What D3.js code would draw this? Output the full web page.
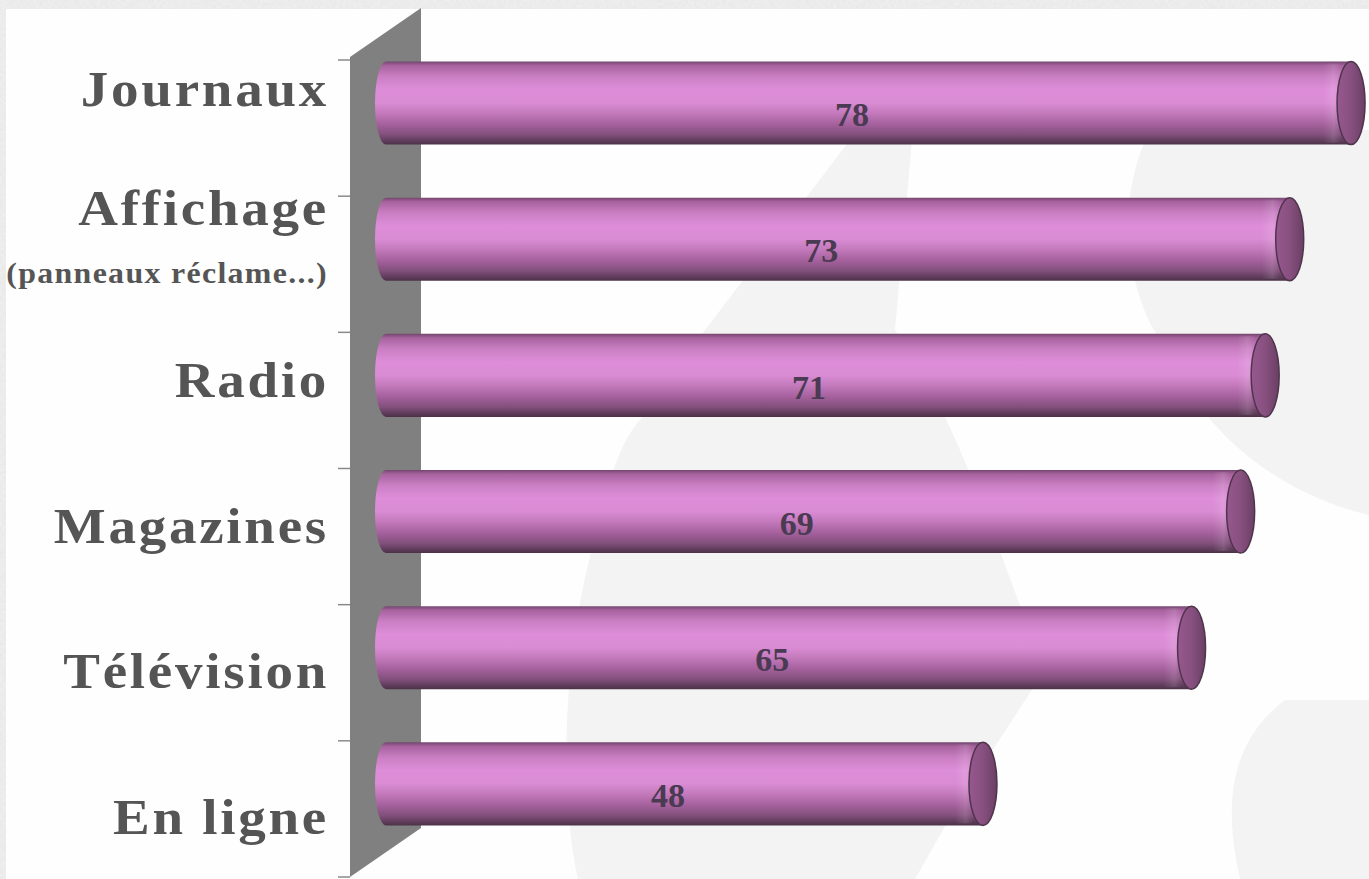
<!DOCTYPE html>
<html>
<head>
<meta charset="utf-8">
<script src="https://cdn.jsdelivr.net/npm/d3@7/dist/d3.min.js"></script>
<style>
  html, body { margin: 0; padding: 0; background: #ffffff; }
  svg { display: block; }
</style>
</head>
<body>
<svg id="chart" width="1369" height="879"></svg>
<script>
// Media categories (top to bottom) and their scores
const categories = ["Journaux", "Affichage", "Radio", "Magazines", "Télévision", "En ligne"];
const values = [78, 73, 71, 69, 65, 48];
const subLabels = ["", "(panneaux réclame...)", "", "", "", ""];

const W = 1369, H = 879;
const svg = d3.select("#chart");
const defs = svg.append("defs");

// ---- layout ----
const plotTop = 60, plotBottom = 877;
const wallFront = 350, wallBack = 421, wallDepthY = 49;

const y = d3.scaleBand().domain(categories).range([plotTop, plotBottom]);
const x = d3.scaleLinear().domain([0, 80]).range([394, 394 + 80 * 12.27]);
const labelY = d3.scalePoint().domain(categories).range([106, 834]);

// ---- background ----
svg.append("rect").attr("width", W).attr("height", H).attr("fill", "#fefefe");

// faint watermark shapes
const wm = svg.append("g").attr("fill", "#f3f3f3");
wm.append("path").attr("d",
  "M1369,130 L1150,130 C1105,220 1140,320 1165,345 C1195,420 1265,490 1369,515 Z");
wm.append("path").attr("d",
  "M850,140 L912,140 L895,330 C960,420 1000,560 1045,670 L960,800 L915,879 L578,879 " +
  "C560,800 560,650 600,520 C612,470 622,440 640,420 L705,330 Z");
wm.append("path").attr("d",
  "M1369,700 L1285,700 C1232,740 1222,800 1240,879 L1369,879 Z");

// textured frame along the top and left edges
const turb = defs.append("filter").attr("id", "grain").attr("x", 0).attr("y", 0)
  .attr("width", 1).attr("height", 1);
turb.append("feTurbulence").attr("type", "fractalNoise").attr("baseFrequency", 0.35)
  .attr("numOctaves", 2).attr("seed", 3).attr("result", "n");
turb.append("feColorMatrix").attr("in", "n").attr("type", "matrix")
  .attr("values", "0 0 0 0 0.86  0 0 0 0 0.86  0 0 0 0 0.86  0 0 0 -1.2 1.25");
svg.append("rect").attr("x", 0).attr("y", 0).attr("width", W).attr("height", 9).attr("fill", "#e6e6e6");
svg.append("rect").attr("x", 0).attr("y", 0).attr("width", 6).attr("height", H).attr("fill", "#e6e6e6");
svg.append("rect").attr("x", 0).attr("y", 0).attr("width", W).attr("height", 9).attr("filter", "url(#grain)");
svg.append("rect").attr("x", 0).attr("y", 0).attr("width", 6).attr("height", H).attr("filter", "url(#grain)");

// ---- 3D side wall ----
svg.append("path")
  .attr("d", `M${wallFront},${plotTop - 3} L${wallBack},${plotTop - 3 - wallDepthY} ` +
             `L${wallBack},${plotBottom - wallDepthY} L${wallFront},${plotBottom} Z`)
  .attr("fill", "#808080");

// category boundary ticks
const tickYs = categories.map(c => y(c)).concat([plotBottom]);
svg.append("g").selectAll("line").data(tickYs).join("line")
  .attr("x1", wallFront - 12).attr("x2", wallFront)
  .attr("y1", d => d).attr("y2", d => d)
  .attr("stroke", "#8a8a8a").attr("stroke-width", 1.5);

// ---- cylinder shading ----
const grad = defs.append("linearGradient").attr("id", "tube")
  .attr("x1", 0).attr("y1", 0).attr("x2", 0).attr("y2", 1);
[
  [0.00, "#74466e"], [0.05, "#a8639f"], [0.18, "#c97ec2"], [0.34, "#de8ed9"],
  [0.50, "#d98bd3"], [0.62, "#c47abc"], [0.76, "#a4609c"], [0.88, "#82507c"],
  [0.96, "#5e3b5a"], [1.00, "#4a3247"]
].forEach(([o, c]) => grad.append("stop").attr("offset", o).attr("stop-color", c));

const capGrad = defs.append("linearGradient").attr("id", "cap")
  .attr("x1", 0).attr("y1", 0).attr("x2", 1).attr("y2", 0);
[[0, "#97588f"], [0.5, "#87507f"], [1, "#6a3f64"]]
  .forEach(([o, c]) => capGrad.append("stop").attr("offset", o).attr("stop-color", c));

const sheen = defs.append("linearGradient").attr("id", "sheen")
  .attr("x1", 0).attr("y1", 0).attr("x2", 1).attr("y2", 0);
[[0, "#ffffff", 0], [0.6, "#ffffff", 0.12], [1, "#ffffff", 0]]
  .forEach(([o, c, a]) => sheen.append("stop").attr("offset", o).attr("stop-color", c).attr("stop-opacity", a));

const barH = y.bandwidth() * 0.61;
const leftInset = 19, leftR = 11, capR = 14;

const bars = svg.append("g").selectAll("g").data(categories).join("g")
  .attr("transform", c => `translate(0,${y(c) + 1.5})`);

// body with rounded left end
bars.append("path")
  .attr("d", (c, i) => {
    const x0 = x(0) - leftInset + leftR, x1 = x(values[i]);
    return `M${x0},0 L${x1},0 L${x1},${barH} L${x0},${barH} ` +
           `A${leftR},${barH / 2} 0 0 1 ${x0},0 Z`;
  })
  .attr("fill", "url(#tube)");

// light band just before the end cap
bars.append("rect")
  .attr("x", (c, i) => x(values[i]) - capR - 14)
  .attr("y", 2).attr("width", 18).attr("height", barH - 4)
  .attr("fill", "url(#sheen)");

// end cap
bars.append("ellipse")
  .attr("cx", (c, i) => x(values[i]))
  .attr("cy", barH / 2)
  .attr("rx", capR).attr("ry", barH / 2)
  .attr("fill", "url(#cap)")
  .attr("stroke", "#4f354c").attr("stroke-width", 1.5);

// value labels
bars.append("text")
  .attr("x", (c, i) => (x(0) - leftInset + x(values[i])) / 2 - 11)
  .attr("y", barH * 0.78)
  .attr("text-anchor", "middle")
  .attr("font-family", "'Liberation Serif', serif")
  .attr("font-weight", "bold")
  .attr("font-size", 34)
  .attr("fill", "#4a3a52")
  .text((c, i) => values[i]);

// ---- category labels (wide bold serif) ----
const labels = svg.append("g")
  .attr("font-family", "'Liberation Serif', 'Times New Roman', serif")
  .attr("font-weight", "bold")
  .attr("fill", "#555555")
  .attr("text-anchor", "end");

labels.selectAll("text.main").data(categories).join("text")
  .attr("class", "main")
  .attr("transform", (c, i) => `translate(329,${labelY(c) - (subLabels[i] ? 27 : 0)}) scale(1.1,1)`)
  .attr("font-size", 50)
  .attr("letter-spacing", 2.5)
  .text(c => c);

labels.selectAll("text.sub").data(categories.filter((c, i) => subLabels[i])).join("text")
  .attr("class", "sub")
  .attr("transform", c => `translate(328,${labelY(c) + 31}) scale(1.1,1)`)
  .attr("font-size", 29)
  .attr("letter-spacing", 1.2)
  .text(c => subLabels[categories.indexOf(c)]);
</script>
</body>
</html>
